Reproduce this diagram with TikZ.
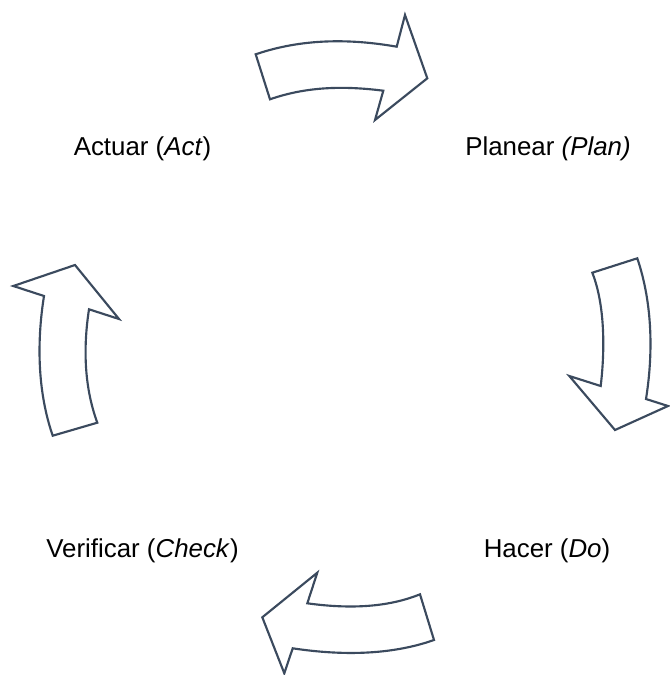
\documentclass[tikz,border=0pt]{standalone}
\usepackage{fontspec}
\setmainfont{Liberation Sans}
\definecolor{arrowline}{RGB}{59,74,94}
\tikzset{
  cyclearrow/.style={draw=arrowline, fill=white, line width=1.6pt, line join=miter},
  phase/.style={font=\fontsize{19.4}{23}\selectfont, anchor=base, inner sep=0pt}
}

\begin{document}
\begin{tikzpicture}[x=0.75pt, y=-0.75pt]
		%%%%% START %%%%%
		\useasboundingbox (0, 0) rectangle (669, 675);
		
		\node[phase] (act) at (142.5, 155) {Actuar (\textit{Act})};
		\node[phase] (plan) at (548, 155) {Planear \textit{(Plan)}};
		\node[phase] (check) at (142.5, 557) {Verificar (\textit{Check})};
		\node[phase] (do) at (547, 557) {Hacer (\textit{Do})};
		
		% act -> plan
		\draw[cyclearrow] (255.7, 54.3) .. controls (302, 38.5) and (350, 38.5) .. (396.7, 46.7)
			-- (405, 15) -- (427.3, 78.3) -- (375, 120) -- (383.3, 90.7)
			.. controls (346, 86) and (308, 86) .. (270, 99.3) -- cycle;
		
		% plan -> do
		\draw[cyclearrow] (592.3, 272.7) -- (637.3, 258.3)
			.. controls (653, 305) and (653, 355) .. (646, 399)
			-- (668, 406) -- (615, 430) -- (569.3, 376) -- (600.7, 386)
			.. controls (605, 350) and (605, 305) .. (592.3, 272.7) -- cycle;
		
		% do -> check
		\draw[cyclearrow] (420, 594.3) -- (434, 640)
			.. controls (390, 655.5) and (340, 655.5) .. (292.7, 648.3)
			-- (284.3, 673.3) -- (262.3, 617.3) -- (317.3, 572.7) -- (307.3, 603.3)
			.. controls (345, 608.5) and (385, 608.5) .. (420, 594.3) -- cycle;
		
		% check -> act
		\draw[cyclearrow] (52.7, 435.7) .. controls (37, 390) and (37, 340) .. (44, 296)
			-- (13.3, 286) -- (75, 265) -- (119, 319) -- (89, 309.3)
			.. controls (83.5, 345) and (83.5, 385) .. (97.3, 422.7) -- cycle;
		%%%%% END %%%%%
	\end{tikzpicture}
\end{document}
